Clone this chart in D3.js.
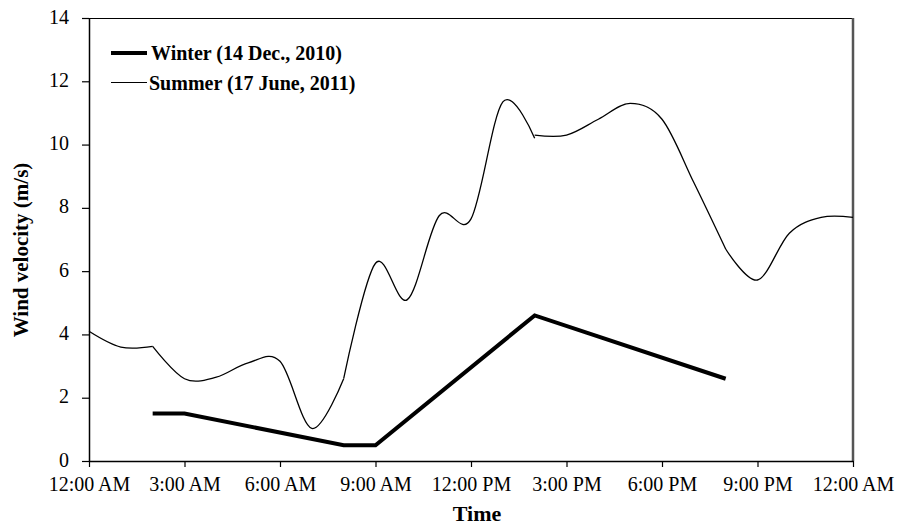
<!DOCTYPE html>
<html>
<head>
<meta charset="utf-8">
<script src="https://cdn.jsdelivr.net/npm/d3@7"></script>
<style>
  html, body { margin: 0; padding: 0; background: #fff; }
  svg { display: block; }
  text { font-family: "Liberation Serif", "Times New Roman", serif; fill: #000; }
</style>
</head>
<body>
<svg id="chart" width="899" height="527"></svg>
<script>
// Wind velocity over one day, winter vs summer
const tickHours = [0, 3, 6, 9, 12, 15, 18, 21, 24];
const tickLabels = ["12:00 AM", "3:00 AM", "6:00 AM", "9:00 AM", "12:00 PM",
                    "3:00 PM", "6:00 PM", "9:00 PM", "12:00 AM"];
const yTicks = [0, 2, 4, 6, 8, 10, 12, 14];

const winterHours  = [2, 3, 8, 9, 14, 20];
const winterValues = [1.5, 1.5, 0.5, 0.5, 4.6, 2.6];

// Hourly summer readings; 14 h appears twice (two readings at that hour)
const summerHours  = [0, 1, 2, 3, 4, 5, 6, 7, 8, 9, 10, 11, 12, 13, 14,
                      14, 15, 16, 17, 18, 19, 20, 21, 22, 23, 24];
const summerValues = [4.1, 3.6, 3.62, 2.6, 2.65, 3.1, 3.15, 1.03, 2.6, 6.25, 5.1, 7.75, 7.65, 11.35, 10.2,
                      10.3, 10.3, 10.8, 11.3, 10.8, 8.8, 6.7, 5.72, 7.2, 7.7, 7.7];
// Index ranges of the separately smoothed pieces of the summer trace
const summerPieces = [[0, 2], [2, 8], [8, 14], [15, 21], [21, 25]];

const svg = d3.select("#chart");
const plotLeft = 89, plotRight = 853, plotTop = 18, plotBottom = 461;

const x = d3.scaleLinear().domain([0, 24]).range([plotLeft, plotRight]);
const y = d3.scaleLinear().domain([0, 14]).range([plotBottom, plotTop]);

// frame: top and right edges
svg.append("line").attr("x1", plotLeft).attr("x2", plotRight).attr("y1", plotTop + 0.5).attr("y2", plotTop + 0.5)
  .attr("stroke", "#000").attr("stroke-width", 1.2);
svg.append("line").attr("x1", plotRight).attr("x2", plotRight).attr("y1", plotTop).attr("y2", plotBottom)
  .attr("stroke", "#555").attr("stroke-width", 2.5);

// x axis
const xAxis = d3.axisBottom(x).tickValues(tickHours)
  .tickFormat((d, i) => tickLabels[i]).tickSize(6).tickSizeOuter(0).tickPadding(10);
const gx = svg.append("g").attr("transform", `translate(0,${plotBottom})`).call(xAxis);
gx.select(".domain").attr("stroke", "#000").attr("stroke-width", 1.5);
gx.selectAll(".tick line").attr("stroke", "#000").attr("stroke-width", 1.2);
gx.selectAll(".tick text").attr("font-size", 20).attr("font-family", "Liberation Serif");

// y axis
const yAxis = d3.axisLeft(y).tickValues(yTicks).tickSize(7).tickSizeOuter(0).tickPadding(13);
const gy = svg.append("g").attr("transform", `translate(${plotLeft},0)`).call(yAxis);
gy.select(".domain").attr("stroke", "#000").attr("stroke-width", 1.5);
gy.selectAll(".tick line").attr("stroke", "#000").attr("stroke-width", 1.2);
gy.selectAll(".tick text").attr("font-size", 20).attr("font-family", "Liberation Serif").attr("dy", "0.25em");

// summer trace: smoothed pieces
const smooth = d3.line().x(d => x(d[0])).y(d => y(d[1])).curve(d3.curveCardinal.tension(0));
summerPieces.forEach(([a, b]) => {
  const pts = d3.range(a, b + 1).map(i => [summerHours[i], summerValues[i]]);
  svg.append("path").attr("d", smooth(pts)).attr("fill", "none")
    .attr("stroke", "#000").attr("stroke-width", 1.3);
});

// winter trace: straight segments
const straight = d3.line().x(d => x(d[0])).y(d => y(d[1]));
svg.append("path")
  .attr("d", straight(winterHours.map((h, i) => [h, winterValues[i]])))
  .attr("fill", "none").attr("stroke", "#000").attr("stroke-width", 4)
  .attr("stroke-linejoin", "miter");

// legend
const legend = svg.append("g");
legend.append("line").attr("x1", 111).attr("x2", 147).attr("y1", 53).attr("y2", 53)
  .attr("stroke", "#000").attr("stroke-width", 4);
legend.append("text").attr("x", 151).attr("y", 60).attr("font-size", 20).attr("font-weight", "bold")
  .text("Winter (14 Dec., 2010)");
legend.append("line").attr("x1", 111).attr("x2", 147).attr("y1", 82.5).attr("y2", 82.5)
  .attr("stroke", "#000").attr("stroke-width", 1.2);
legend.append("text").attr("x", 149).attr("y", 90).attr("font-size", 20).attr("font-weight", "bold")
  .text("Summer (17 June, 2011)");

// axis titles
svg.append("text").attr("x", 477).attr("y", 521).attr("text-anchor", "middle")
  .attr("font-size", 22).attr("font-weight", "bold").text("Time");
svg.append("text").attr("transform", "translate(28,250) rotate(-90)").attr("text-anchor", "middle")
  .attr("font-size", 21).attr("font-weight", "bold").text("Wind velocity (m/s)");
</script>
</body>
</html>
